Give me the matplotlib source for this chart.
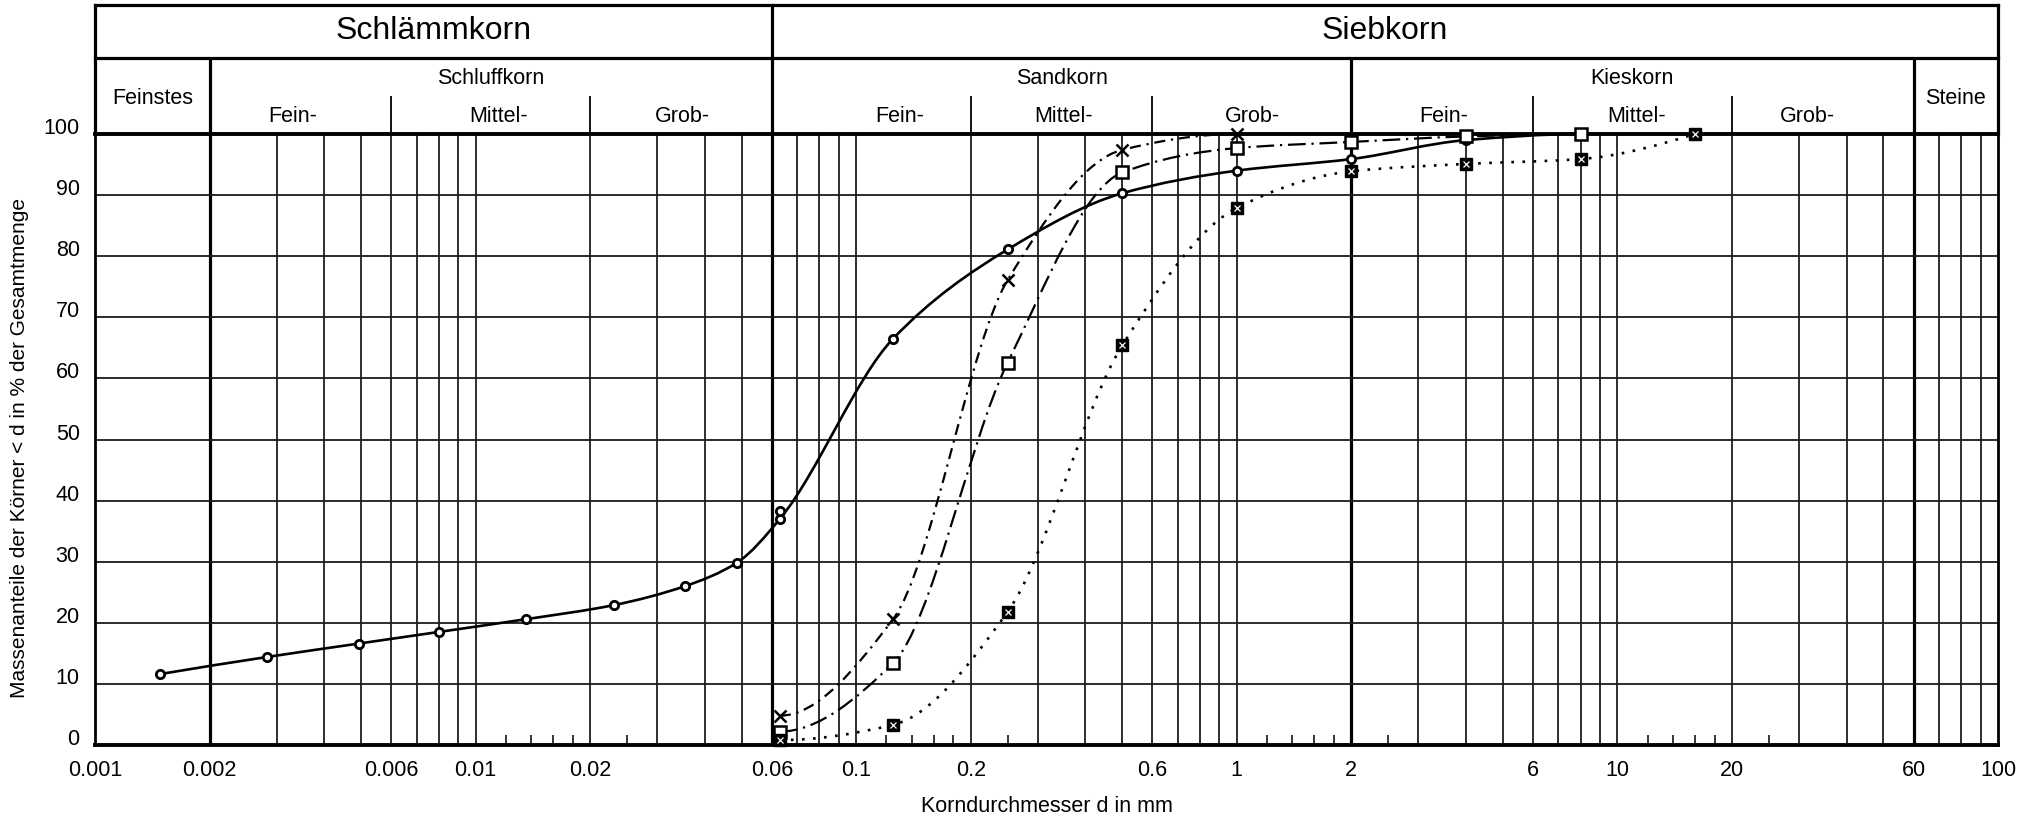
import numpy as np
import matplotlib
matplotlib.use("Agg")
import matplotlib.pyplot as plt
from matplotlib.path import Path
from matplotlib.patches import PathPatch
from matplotlib.ticker import FixedLocator, NullFormatter

plt.rcParams['font.family'] = ['Liberation Sans', 'DejaVu Sans']

# Schlämmanalyse (Sedimentation), Kurve A
sed_d = [0.00148, 0.00283, 0.00493, 0.008, 0.0136, 0.0231, 0.0355, 0.0485, 0.063]
sed_p = [11.6, 14.4, 16.6, 18.5, 20.6, 22.9, 26.0, 29.8, 37.0]

# Siebanalyse
sieve_d = [0.063, 0.125, 0.25, 0.5, 1, 2, 4, 8, 16]
p_a = [38.3, 66.5, 81.1, 90.3, 94.0, 95.9, 99.0, 100]
p_b = [4.8, 20.6, 76.1, 97.4, 100]
p_c = [2.2, 13.4, 62.6, 93.7, 97.7, 98.7, 99.6, 100]
p_d = [0.8, 3.3, 21.8, 65.4, 87.9, 93.9, 95.1, 95.9, 100]

xtick_vals = [0.001, 0.002, 0.006, 0.01, 0.02, 0.06, 0.1, 0.2, 0.6, 1, 2, 6, 10, 20, 60, 100]
xtick_txt = ['0.001', '0.002', '0.006', '0.01', '0.02', '0.06', '0.1', '0.2', '0.6',
             '1', '2', '6', '10', '20', '60', '100']


def curve(ax, d, p, **kw):
    # glatte monotone Kurve (kubische Bezier-Segmente im log-Raum)
    u = np.log10(np.asarray(d, float))
    v = np.asarray(p, float)
    h = np.diff(u)
    s = np.diff(v) / h
    n = len(u)
    m = np.zeros(n)
    for i in range(1, n - 1):
        if s[i - 1] * s[i] > 0:
            w1 = 2 * h[i] + h[i - 1]
            w2 = h[i] + 2 * h[i - 1]
            m[i] = (w1 + w2) / (w1 / s[i - 1] + w2 / s[i])

    def end(h0, h1, s0, s1):
        e = ((2 * h0 + h1) * s0 - h0 * s1) / (h0 + h1)
        if np.sign(e) != np.sign(s0):
            e = 0.0
        elif np.sign(s0) != np.sign(s1) and abs(e) > abs(3 * s0):
            e = 3 * s0
        return e

    m[0] = end(h[0], h[1], s[0], s[1])
    m[-1] = end(h[-1], h[-2], s[-1], s[-2])
    verts = [(u[0], v[0])]
    codes = [Path.MOVETO]
    for i in range(n - 1):
        verts += [(u[i] + h[i] / 3, v[i] + m[i] * h[i] / 3),
                  (u[i + 1] - h[i] / 3, v[i + 1] - m[i + 1] * h[i] / 3),
                  (u[i + 1], v[i + 1])]
        codes += [Path.CURVE4] * 3
    verts = np.array(verts)
    verts[:, 0] = 10 ** verts[:, 0]
    ax.add_patch(PathPatch(Path(verts, codes), fill=False, color='black',
                           clip_on=False, zorder=3, **kw))


W, H = 2038, 819
fig = plt.figure(figsize=(W / 100, H / 100), dpi=100)
x0, x1, y_top, y_bot, y_head = 95, 1998, 134, 745, 5

ax = fig.add_axes([x0 / W, 1 - y_bot / H, (x1 - x0) / W, (y_bot - y_top) / H])
ax.set_xscale('log')
ax.set_xlim(0.001, 100)
ax.set_ylim(0, 100)

thick = [0.002, 0.06, 2, 60]
grid = [m * 10.0 ** k for k in range(-3, 2) for m in range(1, 10)]
grid = [g for g in grid if g > 0.0011 and not any(abs(g / t - 1) < 1e-6 for t in thick)]
ax.vlines(grid, 0, 100, color='black', lw=1.15, zorder=1)
ax.vlines(thick, 0, 100, color='black', lw=2.3, zorder=1)
ax.hlines(range(10, 100, 10), 0.001, 100, color='#1a1a1a', lw=1.3, zorder=1)

for sp in ax.spines.values():
    sp.set_linewidth(2.0)
ax.spines['bottom'].set_linewidth(2.8)
ax.spines['top'].set_linewidth(2.8)

ax.xaxis.set_major_locator(FixedLocator(xtick_vals))
ax.set_xticklabels(xtick_txt)
minor = [m * 10.0 ** k for k in (-2, -1, 0, 1) for m in (1.2, 1.4, 1.6, 1.8, 2.5)]
ax.xaxis.set_minor_locator(FixedLocator(minor))
ax.xaxis.set_minor_formatter(NullFormatter())
ax.tick_params(axis='x', which='major', length=0, pad=11, labelsize=15.5)
ax.tick_params(axis='x', which='minor', direction='in', length=7.5, width=1.1)
ax.set_yticks(range(0, 101, 10))
ax.tick_params(axis='y', length=0, pad=11, labelsize=15.5)
for lab in ax.get_yticklabels():
    lab.set_va('baseline')

# Kurven
curve(ax, sed_d + sieve_d[1:8], sed_p + p_a[1:], lw=1.9)
curve(ax, sieve_d[:5], p_b, lw=1.6, linestyle=(0, (5, 2.6, 1, 2.6)))
curve(ax, sieve_d[:8], p_c, lw=1.6, linestyle=(0, (8, 2.6, 1, 2.6)))
curve(ax, sieve_d, p_d, lw=1.9, linestyle=(0, (1, 3.2)))

ax.plot(sed_d + sieve_d[:8], sed_p + p_a, ls='none', marker='o', ms=6, mfc='white',
        mec='black', mew=2.0, zorder=4, clip_on=False)
ax.plot(sieve_d[:5], p_b, ls='none', marker='x', ms=9, mec='black', mew=1.8,
        zorder=4, clip_on=False)
ax.plot(sieve_d[:8], p_c, ls='none', marker='s', ms=8, mfc='white', mec='black',
        mew=1.8, zorder=4, clip_on=False)
ax.plot(sieve_d, p_d, ls='none', marker='s', ms=8, mfc='black', mec='black',
        zorder=4, clip_on=False)
ax.plot(sieve_d, p_d, ls='none', marker='x', ms=4, mec='white', mew=0.9,
        zorder=5, clip_on=False)

fig.text((x0 + x1) / 2 / W, 1 - 807 / H, 'Korndurchmesser d in mm', ha='center',
         va='center', fontsize=15.5)
fig.text(20 / W, 1 - 448 / H,
         'Massenanteile der Körner < d in % der Gesamtmenge', rotation=90,
         ha='center', va='center', fontsize=15)

# Kopf mit Kornfraktionen
hx = fig.add_axes([x0 / W, 1 - y_top / H, (x1 - x0) / W, (y_top - y_head) / H])
hx.set_xscale('log')
hx.set_xlim(0.001, 100)
hx.set_ylim(0, y_top - y_head)
hx.axis('off')
top = y_top - y_head
row = y_top - 58
sub = y_top - 96
hx.vlines([0.001, 0.06, 100], 0, top, color='black', lw=2.3, clip_on=False,
          capstyle='projecting')
hx.hlines([top, row], 0.001, 100, color='black', lw=2.3, clip_on=False,
          capstyle='projecting')
hx.vlines([0.002, 2, 60], 0, row, color='black', lw=2.3, clip_on=False)
hx.vlines([0.006, 0.02, 0.2, 0.6, 6, 20], 0, sub, color='black', lw=1.3, clip_on=False)

for txt, x in [('Schlämmkorn', 0.00775), ('Siebkorn', 2.449)]:
    hx.text(x, y_top - 31, txt, ha='center', va='center', fontsize=23)
for txt, x, y in [('Feinstes', 0.001414, 99), ('Schluffkorn', 0.01095, 79),
                  ('Sandkorn', 0.3464, 79), ('Kieskorn', 10.95, 79), ('Steine', 77.5, 99)]:
    hx.text(x, y_top - y, txt, ha='center', va='center', fontsize=15.5)
for txt, x in [('Fein-', 0.0033), ('Mittel-', 0.0115), ('Grob-', 0.035),
               ('Fein-', 0.13), ('Mittel-', 0.35), ('Grob-', 1.1),
               ('Fein-', 3.5), ('Mittel-', 11.2), ('Grob-', 31.5)]:
    hx.text(x, y_top - 117, txt, ha='center', va='center', fontsize=15.5)

fig.savefig('out.png', dpi=100, facecolor='white')
